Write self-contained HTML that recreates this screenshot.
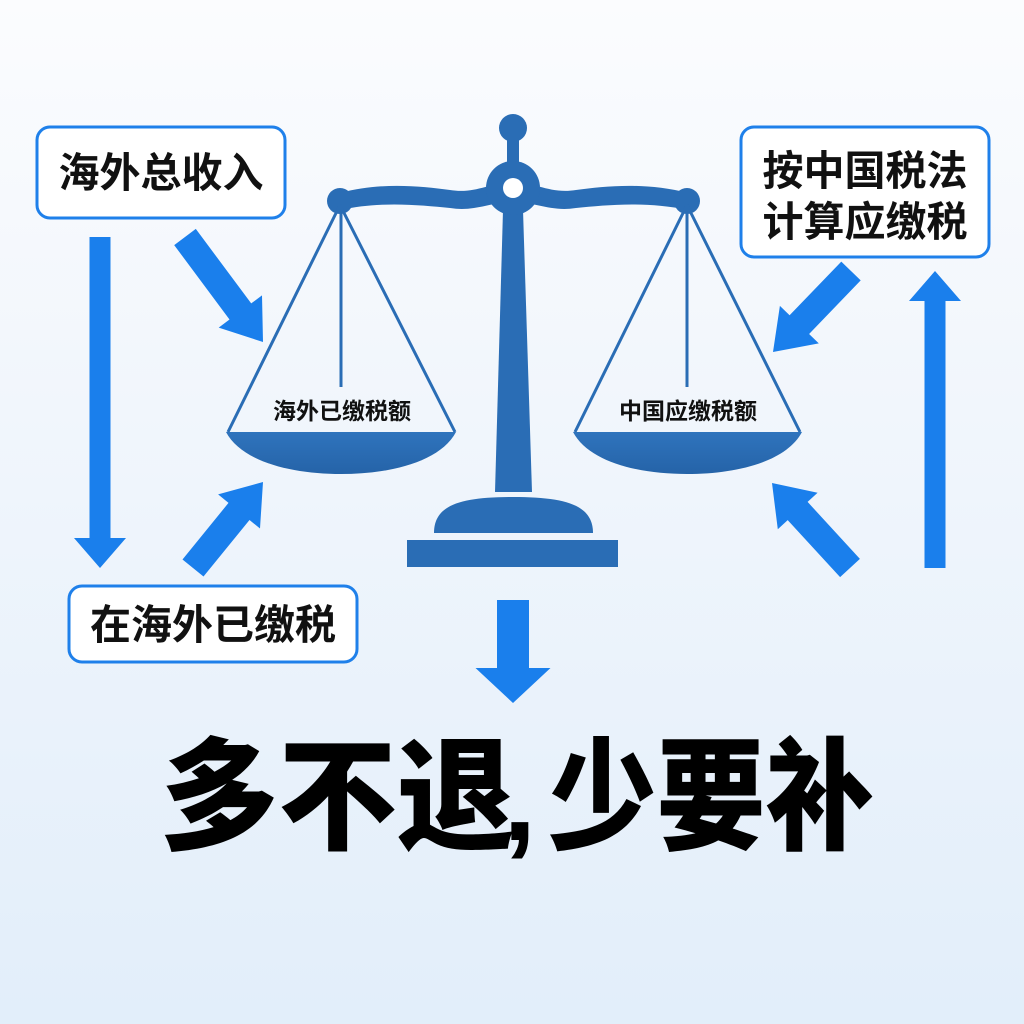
<!DOCTYPE html>
<html><head><meta charset="utf-8"><style>
html,body{margin:0;padding:0;}
body{width:1024px;height:1024px;overflow:hidden;background:linear-gradient(180deg,#fbfcfe 0%,#f1f6fc 40%,#e2eefa 100%);}
svg{position:absolute;left:0;top:0;}
text{font-family:"Liberation Sans","Noto Sans CJK SC",sans-serif;}
</style></head><body>
<svg width="1024" height="1024" viewBox="0 0 1024 1024" xmlns="http://www.w3.org/2000/svg">
<defs>
<linearGradient id="pan" x1="0" y1="0" x2="0" y2="1"><stop offset="0" stop-color="#2f74bd"/><stop offset="1" stop-color="#2563a8"/></linearGradient>
</defs>
<rect x="37" y="127" width="248" height="91" rx="13" fill="#fff" stroke="#1f80ea" stroke-width="3"/>
<rect x="741" y="127" width="248" height="130" rx="13" fill="#fff" stroke="#1f80ea" stroke-width="3"/>
<rect x="69" y="586" width="288" height="76" rx="13" fill="#fff" stroke="#1f80ea" stroke-width="3"/>
<g font-weight="700" font-size="41" fill="#111">
<text x="161" y="187" text-anchor="middle">海外总收入</text>
<text x="865" y="185" text-anchor="middle">按中国税法</text>
<text x="865" y="236" text-anchor="middle">计算应缴税</text>
<text x="213" y="639" text-anchor="middle">在海外已缴税</text>
</g>
<g fill="#2a6db5" stroke="none">
<circle cx="513" cy="128" r="14"/>
<rect x="507" y="135" width="12" height="35"/>
<path d="M340,193 C380,182 420,186 450,190 C475,194 490,183 513,181 C536,183 551,194 576,190 C606,186 646,182 688,193 L688,210 C646,201 606,205 576,208 C551,212 536,202 513,202 C490,202 475,212 450,208 C420,205 380,201 340,210 Z"/>
<circle cx="340" cy="201" r="13"/>
<circle cx="687" cy="201" r="13"/>
<path d="M503,210 L523,210 L532,492 L495,492 Z"/>
<circle cx="513" cy="188" r="27"/>
<path d="M434,533 C434,505 460,497 513,497 C566,497 593,505 593,533 Z"/>
<rect x="407" y="540" width="211" height="27"/>
</g>
<circle cx="513" cy="188" r="10" fill="#fff"/>
<g stroke="#2a6db5" stroke-width="3" fill="none">
<path d="M340,205 L228,432 M340,205 L455,432 M341,205 L341,387"/>
<path d="M687,205 L575,432 M687,205 L800,432 M687,205 L687,387"/>
</g>
<path d="M226,432 L456,432 C440,462 390,474 341,474 C292,474 242,462 226,432 Z" fill="url(#pan)"/>
<path d="M573,432 L802,432 C786,462 736,474 687,474 C638,474 589,462 573,432 Z" fill="url(#pan)"/>
<g font-weight="700" font-size="23" fill="#111">
<text x="342" y="419" text-anchor="middle">海外已缴税额</text>
<text x="688" y="419" text-anchor="middle">中国应缴税额</text>
</g>
<g id="arrows" fill="#1a7fec"></g>
<g font-weight="900" font-size="122" fill="#000">
<text x="160" y="840" style="font-family:'Noto Sans CJK SC',sans-serif;font-weight:900" textLength="355" lengthAdjust="spacingAndGlyphs">多不退</text>
<text x="503" y="840" style="font-family:'Liberation Sans',sans-serif;font-weight:700" font-size="120">,</text>
<text x="548" y="840" style="font-family:'Noto Sans CJK SC',sans-serif;font-weight:900" textLength="326" lengthAdjust="spacingAndGlyphs">少要补</text>
</g>
</svg>
<script>
function arrow(x1,y1,x2,y2,w,hw,hl){
 var dx=x2-x1,dy=y2-y1,L=Math.sqrt(dx*dx+dy*dy),ux=dx/L,uy=dy/L,px=-uy,py=ux;
 var bx=x2-ux*hl,by=y2-uy*hl;
 var p=[[x1+px*w/2,y1+py*w/2],[bx+px*w/2,by+py*w/2],[bx+px*hw/2,by+py*hw/2],[x2,y2],[bx-px*hw/2,by-py*hw/2],[bx-px*w/2,by-py*w/2],[x1-px*w/2,y1-py*w/2]];
 var el=document.createElementNS("http://www.w3.org/2000/svg","polygon");
 el.setAttribute("points",p.map(function(q){return q[0].toFixed(1)+","+q[1].toFixed(1)}).join(" "));
 document.getElementById("arrows").appendChild(el);
}
arrow(100,237,100,568,21,52,30);
arrow(185,237,263,342,27,54,38);
arrow(193,568,263,482,27,54,38);
arrow(851,271,773,352,27,54,38);
arrow(850,568,772,483,27,54,38);
arrow(935,568,935,271,21,52,30);
arrow(513,600,513,703,32,75,35);
</script>
</body></html>
